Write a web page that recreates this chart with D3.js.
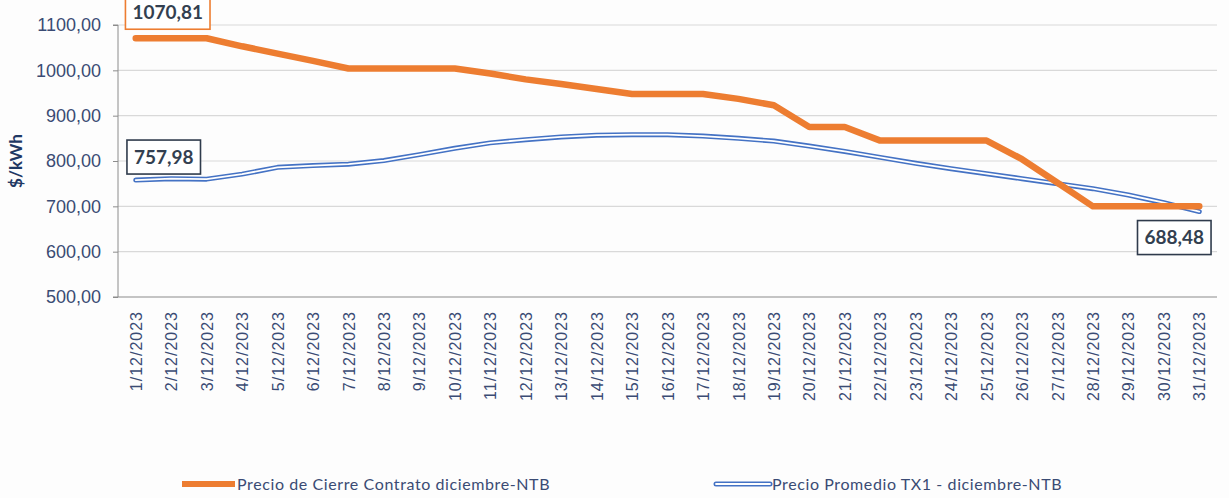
<!DOCTYPE html>
<html>
<head>
<meta charset="utf-8">
<script src="https://cdn.jsdelivr.net/npm/d3@7"></script>
<style>
    body { margin: 0; background: #fdfdfd; }
    svg { display: block; font-family: Lato, "Open Sans", sans-serif; }
</style>
</head>
<body>
<div id="chart"></div>
<script>

// data
let days = d3.range(1, 32).map(d => d + "/12/2023");

let cierre = [1070.81, 1070.81, 1070.81, 1053, 1037, 1021, 1004, 1004, 1004, 1004,
    993, 980, 970, 959, 948, 948, 948, 937, 923, 875,
    875, 845, 845, 845, 845, 804, 752, 700, 700, 700, 700];

let promedio = [757.98, 761, 760, 771, 786, 790, 793, 801, 814, 828,
    840, 847, 853, 857, 858, 858, 855, 850, 844, 833,
    821, 808, 795, 783, 772, 761, 750, 739, 725, 708, 688.48];

let yTicks = [500, 600, 700, 800, 900, 1000, 1100];

let seriesNames = ["Precio de Cierre Contrato diciembre-NTB", "Precio Promedio TX1 - diciembre-NTB"];

let orange = "#ed7d31";
let blue = "#4472c4";
let navy = "#3a4b74";
let labelColor = "#333f50";

let width = 1229, height = 498;

let svg = d3.select("#chart").append("svg")
    .attr("width", width)
    .attr("height", height);

let x = d3.scalePoint()
    .domain(days)
    .range([118, 1217])
    .padding(0.5);

let y = d3.scaleLinear()
    .domain([500, 1100])
    .range([297, 25]);

let locale = d3.formatLocale({ decimal: ",", thousands: ".", grouping: [3], currency: ["$", ""] });
let fmt = locale.format(".2f");

// gridlines
svg.append("g")
    .selectAll("line")
    .data(yTicks.slice(1))
    .enter()
    .append("line")
    .attr("x1", 118)
    .attr("x2", 1217)
    .attr("y1", d => y(d))
    .attr("y2", d => y(d))
    .attr("stroke", "#d9d9d9")
    .attr("stroke-width", 1.2);

// y axis
let yAxis = d3.axisLeft(y)
    .tickValues(yTicks)
    .tickSize(5)
    .tickPadding(12)
    .tickFormat(fmt);

let gy = svg.append("g")
    .attr("class", "axis y-axis")
    .attr("transform", "translate(118,0)")
    .call(yAxis);

gy.select(".domain").attr("stroke", "#8c8c8c").attr("d", `M-5,${y(1100)}H0V${y(500)}`);
gy.selectAll(".tick line").attr("stroke", "#8c8c8c");
gy.selectAll(".tick text")
    .style("font-size", "18px")
    .attr("fill", navy);

// x axis
let xAxis = d3.axisBottom(x).tickSize(0).tickPadding(0);

let gx = svg.append("g")
    .attr("class", "axis x-axis")
    .attr("transform", "translate(0," + y(500) + ")")
    .call(xAxis);

gx.select(".domain").attr("stroke", "#8c8c8c").attr("stroke-width", 1.2).attr("d", "M113,0H1217");
gx.selectAll(".tick text")
    .style("font-size", "16px")
    .style("letter-spacing", "1px")
    .attr("fill", navy)
    .attr("text-anchor", "end")
    .attr("dy", "0.35em")
    .attr("transform", "translate(0,14) rotate(-90)");

// y title
svg.append("text")
    .attr("transform", "translate(22,161) rotate(-90)")
    .attr("text-anchor", "middle")
    .style("font-size", "17px")
    .style("font-weight", "bold")
    .attr("fill", "#1f3864")
    .text("$/kWh");

let line = d3.line()
    .x((d, i) => x(days[i]))
    .y(d => y(d));

// blue double line
svg.append("path")
    .datum(promedio)
    .attr("d", line)
    .attr("fill", "none")
    .attr("stroke", blue)
    .attr("stroke-width", 5)
    .attr("stroke-linejoin", "round")
    .attr("stroke-linecap", "round");

svg.append("path")
    .datum(promedio)
    .attr("d", line)
    .attr("fill", "none")
    .attr("stroke", "#ffffff")
    .attr("stroke-width", 1.8)
    .attr("stroke-linejoin", "round")
    .attr("stroke-linecap", "round");

// orange line
svg.append("path")
    .datum(cierre)
    .attr("d", line)
    .attr("fill", "none")
    .attr("stroke", orange)
    .attr("stroke-width", 6.5)
    .attr("stroke-linejoin", "round")
    .attr("stroke-linecap", "round");

// data labels
function dataLabel(value, index, border, dx, dy, above) {
    let px = x(days[index]);
    let py = y(value);
    let g = svg.append("g");
    let rect = g.append("rect")
        .attr("fill", "#ffffff")
        .attr("stroke", border)
        .attr("stroke-width", 1.6);
    let t = g.append("text")
        .attr("text-anchor", "middle")
        .style("font-size", "19px")
        .style("font-weight", "bold")
        .attr("fill", labelColor)
        .text(fmt(value));
    let bb = t.node().getBBox();
    let w = bb.width + 14, h = 34;
    let cx = px + dx;
    let top = above ? py - dy - h : py + dy;
    rect.attr("x", cx - w / 2).attr("y", top).attr("width", w).attr("height", h);
    t.attr("x", cx).attr("y", top + h / 2).attr("dy", "0.36em");
}

dataLabel(cierre[0], 0, orange, 32, 9, true);
dataLabel(promedio[0], 0, "#2f3b4c", 28, 6, true);
dataLabel(promedio[30], 30, "#2f3b4c", -25, 9, false);

// legend
let legend = svg.append("g").attr("class", "legend");

legend.append("line")
    .attr("x1", 182).attr("x2", 235)
    .attr("y1", 484).attr("y2", 484)
    .attr("stroke", orange)
    .attr("stroke-width", 6);

legend.append("text")
    .attr("x", 237).attr("y", 484)
    .attr("dy", "0.35em")
    .style("font-size", "16px")
    .style("letter-spacing", "0.6px")
    .attr("fill", navy)
    .text(seriesNames[0]);

legend.append("line")
    .attr("x1", 716).attr("x2", 770)
    .attr("y1", 484).attr("y2", 484)
    .attr("stroke", blue)
    .attr("stroke-width", 5)
    .attr("stroke-linecap", "round");

legend.append("line")
    .attr("x1", 716).attr("x2", 770)
    .attr("y1", 484).attr("y2", 484)
    .attr("stroke", "#ffffff")
    .attr("stroke-width", 1.8)
    .attr("stroke-linecap", "round");

legend.append("text")
    .attr("x", 772).attr("y", 484)
    .attr("dy", "0.35em")
    .style("font-size", "16px")
    .style("letter-spacing", "0.6px")
    .attr("fill", navy)
    .text(seriesNames[1]);

</script>
</body>
</html>
